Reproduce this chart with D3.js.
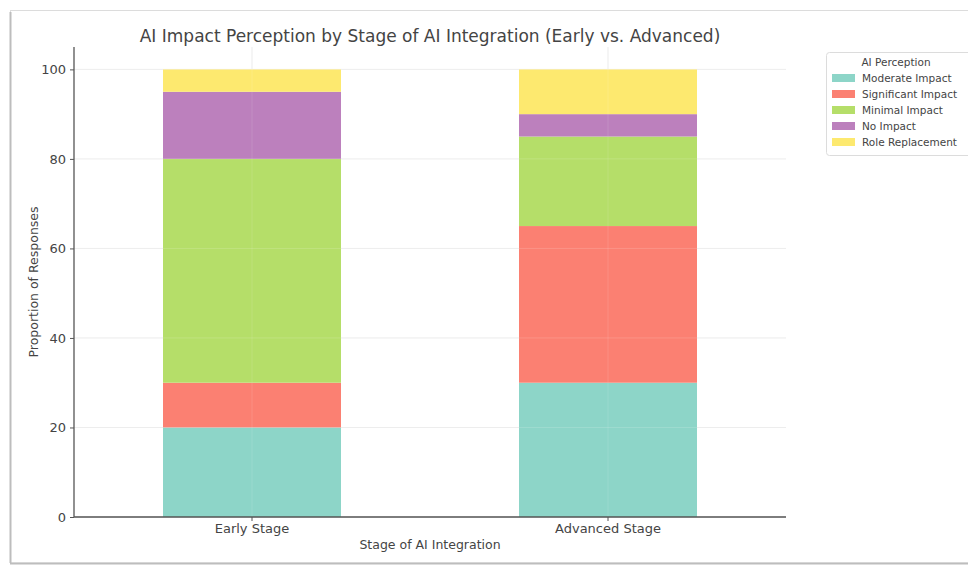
<!DOCTYPE html>
<html><head><meta charset="utf-8">
<script src="https://cdn.jsdelivr.net/npm/d3@7"></script>
<style>body{margin:0;background:#fff;}svg{display:block;font-family:"DejaVu Sans",sans-serif;}</style>
</head><body><svg id="c" width="968" height="566"></svg>
<script>
const categories = ["Early Stage", "Advanced Stage"];
const seriesNames = ["Moderate Impact", "Significant Impact", "Minimal Impact", "No Impact", "Role Replacement"];
const moderate = [20, 30];
const significant = [10, 35];
const minimal = [50, 20];
const noImpact = [15, 5];
const roleReplacement = [5, 10];
const yTicks = [0, 20, 40, 60, 80, 100];
const colors = ["#8dd5c8", "#fb8072", "#b5de69", "#bc80bd", "#fde96f"];

const seriesValues = [moderate, significant, minimal, noImpact, roleReplacement];
const table = categories.map((c, i) => {
  const row = {stage: c};
  seriesNames.forEach((s, j) => row[s] = seriesValues[j][i]);
  return row;
});
const stacked = d3.stack().keys(seriesNames)(table);

const svg = d3.select("#c");
const L = 74, R = 786, T = 47, B = 517;

// frame
svg.append("rect").attr("x", 10.5).attr("y", 10.5).attr("width", 970).attr("height", 552.5)
  .attr("fill", "none").attr("stroke", "#dcdcdc").attr("stroke-width", 1);
svg.append("line").attr("x1", 10.5).attr("x2", 10.5).attr("y1", 12).attr("y2", 563).attr("stroke", "#bdbdbd").attr("stroke-width", 2);
svg.append("line").attr("x1", 10).attr("x2", 968).attr("y1", 563.5).attr("y2", 563.5).attr("stroke", "#bdbdbd").attr("stroke-width", 2);

const x = d3.scaleBand().domain(categories).range([L, R]).paddingInner(0.5).paddingOuter(0.25);
const y = d3.scaleLinear().domain([0, 105]).range([B, T]);
const color = d3.scaleOrdinal().domain(seriesNames).range(colors);

// grid
svg.append("g").selectAll("line").data(yTicks).join("line")
  .attr("x1", L).attr("x2", R).attr("y1", d => y(d)).attr("y2", d => y(d))
  .attr("stroke", "#ebebeb").attr("stroke-width", 1);
svg.append("g").selectAll("line").data(categories).join("line")
  .attr("x1", d => x(d) + x.bandwidth() / 2).attr("x2", d => x(d) + x.bandwidth() / 2)
  .attr("y1", T).attr("y2", B).attr("stroke", "#ebebeb").attr("stroke-width", 1);

// bars
svg.append("g").selectAll("g").data(stacked).join("g")
  .attr("fill", d => color(d.key))
  .selectAll("rect").data(d => d).join("rect")
  .attr("x", d => x(d.data.stage)).attr("width", x.bandwidth())
  .attr("y", d => y(d[1])).attr("height", d => y(d[0]) - y(d[1]));

// faint grid visible over bars
svg.append("g").selectAll("line").data(categories).join("line")
  .attr("x1", d => x(d) + x.bandwidth() / 2).attr("x2", d => x(d) + x.bandwidth() / 2)
  .attr("y1", T).attr("y2", B).attr("stroke", "#ffffff").attr("stroke-opacity", 0.12).attr("stroke-width", 1);
svg.append("g").selectAll("line").data(yTicks.slice(1)).join("line")
  .attr("x1", L).attr("x2", R).attr("y1", d => y(d)).attr("y2", d => y(d))
  .attr("stroke", "#ffffff").attr("stroke-opacity", 0.15).attr("stroke-width", 1);

// axes
const yAxis = svg.append("g").attr("transform", `translate(${L},0)`)
  .call(d3.axisLeft(y).tickValues(yTicks).tickSize(4).tickPadding(4));
const xAxis = svg.append("g").attr("transform", `translate(0,${B})`)
  .call(d3.axisBottom(x).tickSize(4).tickPadding(3));
[yAxis, xAxis].forEach(a => {
  a.select(".domain").attr("stroke", "#555").attr("stroke-width", 1.3);
  a.selectAll(".tick line").attr("stroke", "#555");
  a.selectAll(".tick text").attr("fill", "#444").style("font-size", "13px").style("font-family", "DejaVu Sans");
});
yAxis.select(".domain").attr("d", `M0,${T}V${B}`);
xAxis.select(".domain").attr("d", `M${L},0H${R}`);

// title & labels
svg.append("text").attr("x", (L + R) / 2).attr("y", 42).attr("text-anchor", "middle")
  .attr("fill", "#444").style("font-size", "17px").text("AI Impact Perception by Stage of AI Integration (Early vs. Advanced)");
svg.append("text").attr("x", (L + R) / 2).attr("y", 549).attr("text-anchor", "middle")
  .attr("fill", "#444").style("font-size", "12.5px").text("Stage of AI Integration");
svg.append("text").attr("transform", `translate(38,${(T + B) / 2}) rotate(-90)`).attr("text-anchor", "middle")
  .attr("fill", "#444").style("font-size", "12.5px").text("Proportion of Responses");

// legend
const lg = svg.append("g").attr("transform", "translate(826,52)");
lg.append("rect").attr("x", 0.5).attr("y", 0.5).attr("width", 150).attr("height", 103).attr("rx", 3)
  .attr("fill", "#fff").attr("stroke", "#dcdcdc");
lg.append("text").attr("x", 70).attr("y", 14).attr("text-anchor", "middle").attr("fill", "#444")
  .style("font-size", "10.5px").text("AI Perception");
const items = lg.selectAll("g.item").data(seriesNames).join("g").attr("class", "item")
  .attr("transform", (d, i) => `translate(6,${26 + i * 16})`);
items.append("rect").attr("x", 0).attr("y", -4).attr("width", 23).attr("height", 8).attr("fill", d => color(d));
items.append("text").attr("x", 30).attr("y", 4).attr("fill", "#444").style("font-size", "10.5px").text(d => d);
</script></body></html>
